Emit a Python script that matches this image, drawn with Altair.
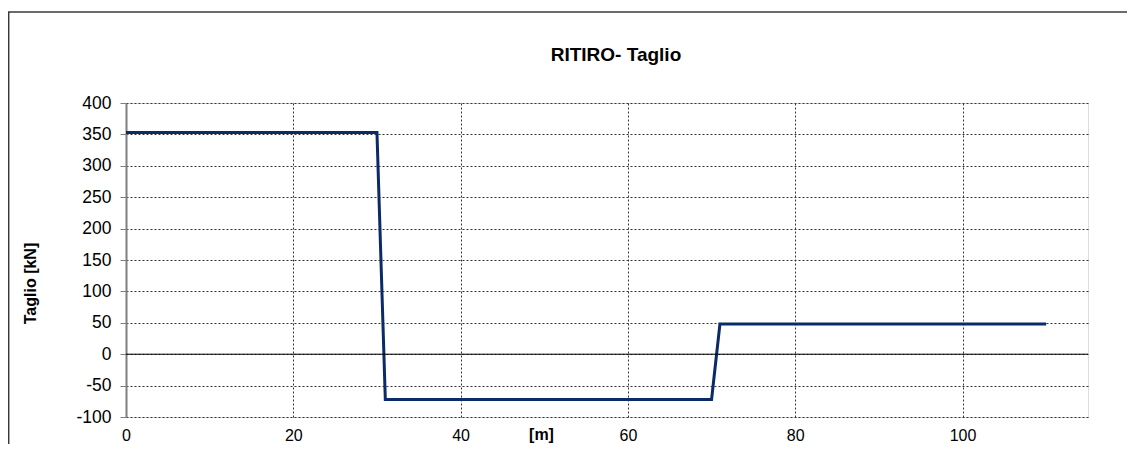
import altair as alt
import pandas as pd

# Data
x_m = [0, 30, 31, 70, 71, 110]
taglio_kN = [353, 353, -72, -72, 48, 48]
x_ticks = [0, 20, 40, 60, 80, 100]
y_ticks = [-100, -50, 0, 50, 100, 150, 200, 250, 300, 350, 400]

df = pd.DataFrame({"x": x_m, "y": taglio_kN})

FONT = "Liberation Sans"
W, H = 962, 314

xscale = alt.Scale(domain=[0, 115], nice=False, zero=False)
yscale = alt.Scale(domain=[-100, 400], nice=False)

y_axis = alt.Axis(values=y_ticks, title="Taglio [kN]", grid=True, gridDash=[2, 2],
                  gridColor="#333333", gridWidth=1,
                  domain=True, domainColor="#7f7f7f", domainWidth=2,
                  ticks=True, tickColor="#7f7f7f", tickSize=6, tickWidth=1,
                  labelFont=FONT, labelFontSize=17.5, labelColor="#000",
                  labelPadding=9, labelOverlap=False, labelFlush=False,
                  labelExpr="'' + datum.value",
                  titleFont=FONT, titleFontSize=16, titleFontWeight="bold",
                  titleColor="#000", titleAngle=-90, titleX=-96, titleY=180,
                  titleAlign="center", titleBaseline="middle")

x_axis = alt.Axis(values=x_ticks, title="[m]", grid=True, gridDash=[2, 2],
                  gridColor="#333333", gridWidth=1, domain=False, ticks=False,
                  labelFont=FONT, labelFontSize=16, labelColor="#000",
                  labelPadding=10, labelOverlap=False, labelFlush=False,
                  labelExpr="'' + datum.value",
                  titleFont=FONT, titleFontSize=16, titleFontWeight="bold",
                  titleColor="#000", titleX=415, titleY=22,
                  titleBaseline="alphabetic", titleAlign="center")

line = alt.Chart(df).mark_line(color="#0b2a68", strokeWidth=3, clip=False).encode(
    x=alt.X("x:Q", scale=xscale, axis=x_axis),
    y=alt.Y("y:Q", scale=yscale, axis=y_axis),
)

zero = alt.Chart(pd.DataFrame({"y": [0]})).mark_rule(color="#000", strokeWidth=1).encode(
    y=alt.Y("y:Q", scale=yscale, axis=y_axis), x=alt.value(0), x2=alt.value(W)
)

title = alt.Chart(pd.DataFrame({"t": ["RITIRO- Taglio"]})).mark_text(
    font=FONT, fontSize=19, fontWeight="bold", color="#000",
    align="center", baseline="alphabetic"
).encode(text="t:N", x=alt.value(490), y=alt.value(-42))

frame_top = alt.Chart(pd.DataFrame({"a": [0]})).mark_rule(
    color="#3a3a3a", strokeWidth=1.5).encode(
    x=alt.value(-118), x2=alt.value(W + 60), y=alt.value(-91))
frame_left = alt.Chart(pd.DataFrame({"a": [0]})).mark_rule(
    color="#3a3a3a", strokeWidth=1.5).encode(
    x=alt.value(-117.3), y=alt.value(-91), y2=alt.value(H + 60))

chart = alt.layer(line, zero, title, frame_top, frame_left).properties(
    width=W, height=H,
    autosize=alt.AutoSizeParams(type="none"),
    padding={"left": 118, "top": 95, "right": 39, "bottom": 27},
).configure_view(stroke="#a0a0a0", strokeWidth=1.5).configure(background="white")

chart.save("out.html", embed_options={"renderer": "svg", "actions": False})
